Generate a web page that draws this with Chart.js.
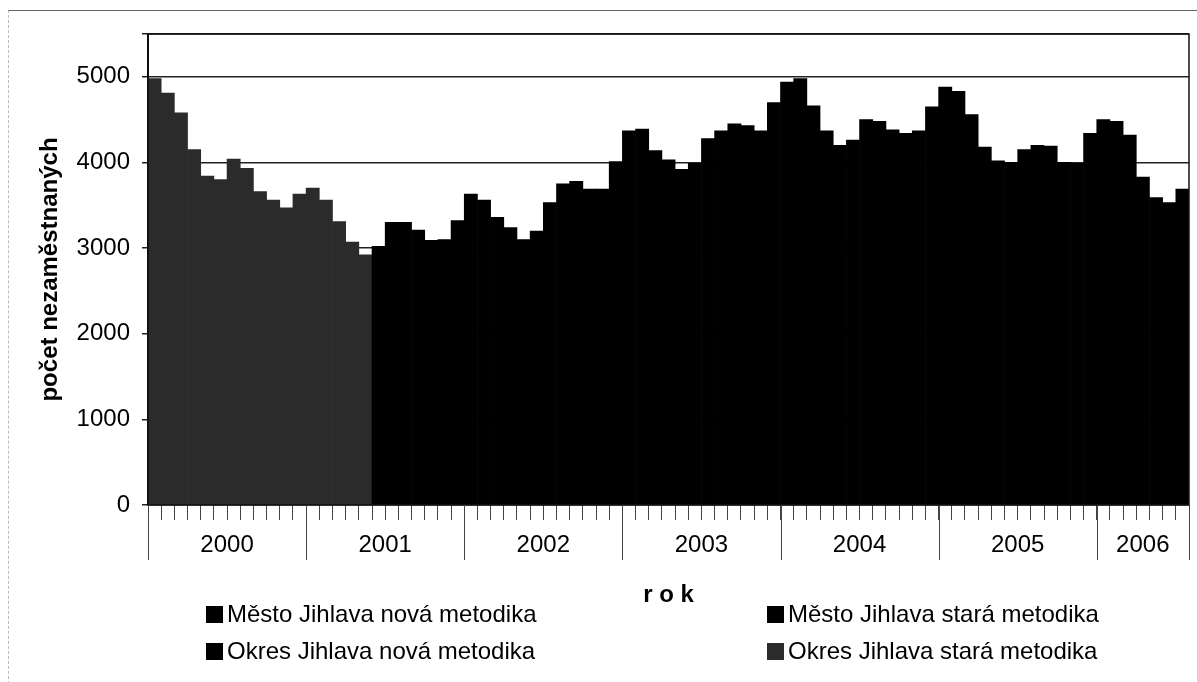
<!DOCTYPE html>
<html>
<head>
<meta charset="utf-8">
<script src="https://cdn.jsdelivr.net/npm/chart.js@4.4.1/dist/chart.umd.min.js"></script>
<style>
  body { margin: 0; background: #fff; }
  #wrap { position: relative; width: 1197px; height: 682px; overflow: hidden; font-family: "Liberation Sans", Arial, sans-serif; }
  #frame { position: absolute; left: 8px; top: 10px; right: -2px; bottom: -2px; border-top: 1px solid #666; border-left: 1px dashed #bbb; }
  canvas { position: absolute; left: 0; top: 0; }
  .leg { position: absolute; font-size: 24px; line-height: 24px; color: #000; white-space: nowrap; }
  .leg i { display: inline-block; width: 17px; height: 17px; background: #000; margin-right: 4px; vertical-align: -1px; }
</style>
</head>
<body>
<div id="wrap">
  <div id="frame"></div>
  <canvas id="myChart" width="1197" height="682"></canvas>
  <div class="leg" style="left:206px;top:602px"><i></i>Město Jihlava nová metodika</div>
  <div class="leg" style="left:767px;top:602px"><i></i>Město Jihlava stará metodika</div>
  <div class="leg" style="left:206px;top:639px"><i></i>Okres Jihlava nová metodika</div>
  <div class="leg" style="left:767px;top:639px"><i style="background:#2b2b2b"></i>Okres Jihlava stará metodika</div>
</div>
<script>
// roky a pocet mesicu v grafu
const roky = ['2000', '2001', '2002', '2003', '2004', '2005', '2006']
const mesicuVRoce = [12, 12, 12, 12, 12, 12, 7]

// osa y
const yTicks = [0, 1000, 2000, 3000, 4000, 5000, 5500]

// okres - stara metodika (leden 2000 - kveten 2001)
const okresStara = [4980, 4810, 4580, 4150, 3840, 3800, 4040, 3930, 3660, 3560, 3470, 3630,
  3700, 3560, 3310, 3070, 2920]

// okres - nova metodika (od cervna 2001)
const okresNova = [null, null, null, null, null, null, null, null, null, null, null, null,
  null, null, null, null, null, 3020, 3300, 3300, 3210, 3090, 3100, 3320,
  3630, 3560, 3360, 3240, 3100, 3200, 3530, 3750, 3780, 3690, 3690, 4010,
  4370, 4390, 4140, 4030, 3920, 3990, 4280, 4370, 4450, 4430, 4370, 4700,
  4940, 4980, 4660, 4370, 4200, 4260, 4500, 4480, 4380, 4340, 4370, 4650,
  4880, 4830, 4560, 4180, 4020, 4000, 4150, 4200, 4190, 4000, 3990, 4340,
  4500, 4480, 4320, 3830, 3590, 3530, 3690]

// mesto - hodnoty jsou schovane za okresem, v obrazku nejsou videt
const mestoNova = []
const mestoStara = []

const mesice = []
const yearLabel = {}
let idx = 0
roky.forEach((rok, r) => {
  const n = mesicuVRoce[r]
  for (let m = 1; m <= n; m++) mesice.push(m + '/' + rok)
  // popisek roku doprostred
  if (n % 2 === 0) yearLabel[idx + n / 2] = rok
  else yearLabel[idx + (n + 1) / 2] = rok + '  '
  idx += n
})

const font = { family: '"Liberation Sans", Arial, sans-serif', size: 24 }

const yearLines = {
  id: 'yearLines',
  afterDraw(chart) {
    const { ctx, chartArea, scales: { x } } = chart
    const half = (x.getPixelForValue(1) - x.getPixelForValue(0)) / 2
    ctx.save()
    ctx.strokeStyle = '#444'
    ctx.lineWidth = 1
    let b = 0
    const bounds = [0]
    mesicuVRoce.forEach(n => { b += n; bounds.push(b) })
    bounds.forEach(v => {
      const px = Math.round(x.getPixelForValue(v) - half) + 0.5
      ctx.beginPath()
      ctx.moveTo(px, chartArea.bottom)
      ctx.lineTo(px, chartArea.bottom + 55)
      ctx.stroke()
    })
    ctx.restore()
  }
}

const areaBorder = {
  id: 'areaBorder',
  afterDatasetsDraw(chart) {
    const { ctx, chartArea: { left, top, width, height } } = chart
    ctx.save()
    ctx.strokeStyle = '#111'
    ctx.lineWidth = 1.5
    ctx.strokeRect(left, top, width, height)
    ctx.restore()
  }
}

const config = {
  type: 'bar',
  data: {
    labels: mesice,
    datasets: [
      { label: 'Město Jihlava nová metodika', data: mestoNova, backgroundColor: '#000' },
      { label: 'Město Jihlava stará metodika', data: mestoStara, backgroundColor: '#000' },
      { label: 'Okres Jihlava nová metodika', data: okresNova, backgroundColor: '#000' },
      { label: 'Okres Jihlava stará metodika', data: okresStara, backgroundColor: '#2b2b2b' },
    ],
  },
  options: {
    responsive: false,
    animation: false,
    categoryPercentage: 1,
    barPercentage: 1,
    borderWidth: 0,
    layout: { padding: { top: 34, right: 8, bottom: 72, left: 0 } },
    plugins: { legend: { display: false }, tooltip: { enabled: false } },
    scales: {
      x: {
        stacked: true,
        grid: { offset: true, drawOnChartArea: false, tickLength: 15, color: '#444', lineWidth: 1 },
        border: { display: false },
        ticks: {
          autoSkip: false, maxRotation: 0, minRotation: 0, labelOffset: -6.6, padding: 11,
          font: font, color: '#000',
          callback: (v, i) => yearLabel[i] || ''
        },
        title: { display: true, text: 'r o k', color: '#000', font: { ...font, weight: 'bold' }, padding: { top: 0, bottom: 0 } },
        afterFit: s => { s.height = 105 }
      },
      y: {
        stacked: false,
        min: 0,
        max: 5500,
        afterBuildTicks: s => { s.ticks = yTicks.map(v => ({ value: v })) },
        ticks: { padding: 12, font: font, color: '#000', callback: v => v % 1000 === 0 ? String(v) : '' },
        grid: { color: '#222', lineWidth: 1.5, tickLength: 6 },
        border: { display: true, color: '#000', width: 2 },
        title: { display: true, text: 'počet nezaměstnaných', color: '#000', font: { ...font, weight: 'bold' }, padding: { top: 36, bottom: 0 } },
        afterFit: s => { s.width = 148 }
      }
    }
  },
  plugins: [yearLines, areaBorder]
}

const myChart = new Chart(document.getElementById('myChart'), config)
</script>
</body>
</html>
